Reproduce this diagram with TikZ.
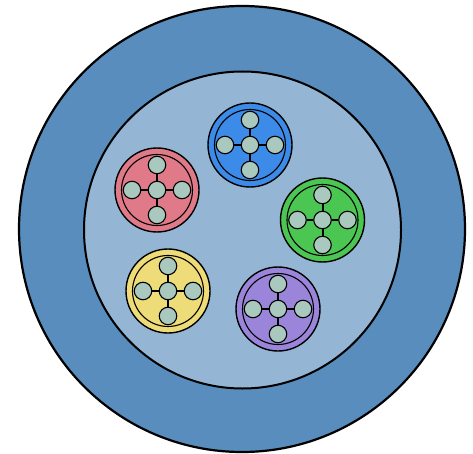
\documentclass[tikz,border=0pt]{standalone}
\usetikzlibrary{calc}
\definecolor{jacket}{HTML}{588DBD}
\definecolor{core}{HTML}{94B5D4}
\definecolor{cred}{HTML}{E07A88}
\definecolor{cblue}{HTML}{3D8BE8}
\definecolor{cgreen}{HTML}{4CC652}
\definecolor{cyellow}{HTML}{EEDC78}
\definecolor{cpurple}{HTML}{9A85DA}
\definecolor{fiber}{HTML}{A9C8BE}
\tikzset{
  jacketbox/.style={circle,draw=black,line width=2.2pt,fill=jacket,minimum size=446pt,inner sep=0pt},
  corebox/.style={circle,draw=black,line width=2pt,fill=core,minimum size=317pt,inner sep=0pt},
  tubebox/.style={circle,draw=black,line width=1.4pt,minimum size=84pt,inner sep=0pt},
  ringbox/.style={circle,draw=black,line width=1.1pt,minimum size=71pt,inner sep=0pt},
  fiberbox/.style={circle,draw=black,line width=1.1pt,fill=fiber,minimum size=17.5pt,inner sep=0pt},
  linkline/.style={line width=2pt,draw=black}
}
\newcommand\fiberbundle[3]{%
  \node[tubebox,fill=#3] (#1t) at (#2) {};
  \node[ringbox] (#1r) at (#2) {};
  \node[fiberbox] (#1c) at (#2) {};
  \node[fiberbox] (#1n) at ($(#2)+(0,-25)$) {};
  \node[fiberbox] (#1s) at ($(#2)+(0,25)$) {};
  \node[fiberbox] (#1w) at ($(#2)+(-25,0)$) {};
  \node[fiberbox] (#1e) at ($(#2)+(25,0)$) {};
  \draw[linkline] (#1c) -- (#1n);
  \draw[linkline] (#1c) -- (#1s);
  \draw[linkline] (#1c) -- (#1w);
  \draw[linkline] (#1c) -- (#1e);
}
\begin{document}
\begin{tikzpicture}[x=1pt,y=-1pt]
\useasboundingbox (0,0) rectangle (473,454);
\node[jacketbox] (jacket) at (242,229) {};
\node[corebox] (core) at (242.5,230) {};
\fiberbundle{a}{250,145}{cblue}
\fiberbundle{b}{157,190}{cred}
\fiberbundle{c}{322.5,220}{cgreen}
\fiberbundle{d}{168,291}{cyellow}
\fiberbundle{e}{278,309}{cpurple}
\end{tikzpicture}
\end{document}
